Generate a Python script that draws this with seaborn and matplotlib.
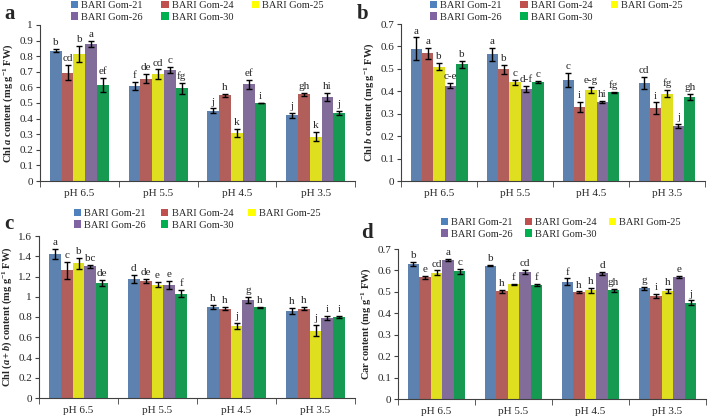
import numpy as np
import pandas as pd
import matplotlib
matplotlib.use("Agg")
import matplotlib.pyplot as plt
import seaborn as sns
from matplotlib.patches import Patch
from matplotlib.ticker import FixedLocator

# categories and varieties
ph_levels = ["pH 6.5", "pH 5.5", "pH 4.5", "pH 3.5"]
varieties = ["BARI Gom-21", "BARI Gom-24", "BARI Gom-25", "BARI Gom-26", "BARI Gom-30"]
colors = ["#4F81BD", "#C0504D", "#FFFF00", "#8064A2", "#00B050"]

# panel a: Chl a (rows = varieties, cols = pH levels)
chla_mean = [[0.835, 0.610, 0.450, 0.420],
             [0.695, 0.655, 0.550, 0.555],
             [0.815, 0.685, 0.310, 0.285],
             [0.880, 0.710, 0.620, 0.540],
             [0.615, 0.595, 0.500, 0.435]]
chla_err = [[0.010, 0.025, 0.015, 0.015],
            [0.050, 0.030, 0.010, 0.012],
            [0.050, 0.030, 0.025, 0.030],
            [0.020, 0.020, 0.030, 0.025],
            [0.045, 0.035, 0.003, 0.015]]
chla_let = [["b", "f", "j", "j"],
            ["cd", "de", "h", "gh"],
            ["b", "cd", "k", "k"],
            ["a", "c", "ef", "hi"],
            ["ef", "fg", "i", "j"]]

# panel b: Chl b
chlb_mean = [[0.590, 0.565, 0.450, 0.437],
             [0.570, 0.498, 0.330, 0.325],
             [0.510, 0.440, 0.405, 0.390],
             [0.425, 0.410, 0.353, 0.245],
             [0.520, 0.440, 0.395, 0.375]]
chlb_err = [[0.050, 0.030, 0.030, 0.025],
            [0.025, 0.020, 0.022, 0.025],
            [0.017, 0.012, 0.013, 0.015],
            [0.012, 0.013, 0.005, 0.008],
            [0.015, 0.005, 0.002, 0.013]]
chlb_let = [["a", "a", "c", "cd"],
            ["a", "b", "i", "i"],
            ["b", "c", "e-g", "fg"],
            ["c-e", "d-f", "hi", "j"],
            ["b", "c", "fg", "gh"]]

# panel c: Chl (a+b)
chlab_mean = [[1.420, 1.175, 0.895, 0.855],
              [1.260, 1.155, 0.880, 0.880],
              [1.330, 1.120, 0.715, 0.665],
              [1.300, 1.115, 0.970, 0.790],
              [1.135, 1.030, 0.895, 0.800]]
chlab_err = [[0.050, 0.040, 0.020, 0.030],
             [0.080, 0.020, 0.015, 0.015],
             [0.055, 0.025, 0.030, 0.055],
             [0.015, 0.040, 0.030, 0.020],
             [0.030, 0.035, 0.005, 0.010]]
chlab_let = [["a", "d", "h", "h"],
             ["c", "de", "h", "h"],
             ["b", "e", "j", "j"],
             ["bc", "e", "g", "i"],
             ["de", "f", "h", "i"]]

# panel d: carotenoids
car_mean = [[0.630, 0.622, 0.548, 0.518],
            [0.568, 0.503, 0.498, 0.482],
            [0.590, 0.535, 0.508, 0.505],
            [0.647, 0.593, 0.587, 0.568],
            [0.597, 0.533, 0.507, 0.450]]
car_err = [[0.010, 0.003, 0.015, 0.007],
           [0.007, 0.007, 0.004, 0.010],
           [0.010, 0.003, 0.012, 0.010],
           [0.005, 0.010, 0.008, 0.005],
           [0.012, 0.005, 0.007, 0.010]]
car_let = [["b", "b", "f", "g"],
           ["e", "h", "h", "i"],
           ["cd", "f", "h", "h"],
           ["a", "cd", "d", "e"],
           ["c", "f", "gh", "j"]]

sns.set_style("white")
plt.rcParams["font.family"] = ["Liberation Serif", "DejaVu Serif"]
plt.rcParams["mathtext.fontset"] = "custom"
plt.rcParams["mathtext.rm"] = "Liberation Serif:bold"
plt.rcParams["mathtext.it"] = "Liberation Serif:italic:bold"
plt.rcParams["mathtext.bf"] = "Liberation Serif:bold"

fig = plt.figure(figsize=(7.09, 4.19), dpi=100)
W, H = 709.0, 419.0


def px_axes(l, t, r, b):
    return fig.add_axes([l / W, 1 - b / H, (r - l) / W, (b - t) / H])


panels = [
    dict(mean=chla_mean, err=chla_err, let=chla_let, box=(40, 25, 355, 181),
         ymax=1.0, step=0.1, label="Chl $\\mathit{a}$ content (mg g$^{-1}$ FW)",
         tag="a", tagpos=(4, 14), leg=(71, 1), cs=1.75),
    dict(mean=chlb_mean, err=chlb_err, let=chlb_let, box=(401, 24, 705, 181),
         ymax=0.7, step=0.1, label="Chl $\\mathit{b}$ content (mg g$^{-1}$ FW)",
         tag="b", tagpos=(357, 14), leg=(430, 1), cs=1.75),
    dict(mean=chlab_mean, err=chlab_err, let=chlab_let, box=(39, 236, 355, 398),
         ymax=1.6, step=0.2, label="Chl ($\\mathit{a+b}$) content (mg g$^{-1}$ FW)",
         tag="c", tagpos=(4, 224), leg=(74, 209), cs=1.45),
    dict(mean=car_mean, err=car_err, let=car_let, box=(398, 249, 706, 399),
         ymax=0.7, step=0.1, label="Car content (mg g$^{-1}$ FW)",
         tag="d", tagpos=(361, 233), leg=(441, 218), cs=1.15),
]

for p in panels:
    ax = px_axes(*p["box"])
    rows = []
    for vi, v in enumerate(varieties):
        for ci, c in enumerate(ph_levels):
            rows.append(dict(pH=c, variety=v, value=p["mean"][vi][ci]))
    df = pd.DataFrame(rows)
    sns.barplot(data=df, x="pH", y="value", hue="variety", order=ph_levels,
                hue_order=varieties, palette=colors, width=0.75, gap=0,
                errorbar=None, legend=False, linewidth=0, ax=ax)

    bar_containers = list(ax.containers)
    for vi, cont in enumerate(bar_containers):
        for ci, bar in enumerate(cont):
            xc = bar.get_x() + bar.get_width() / 2
            y = bar.get_height()
            e = p["err"][vi][ci]
            ax.errorbar(xc, y, yerr=e, color="black", capsize=2,
                        elinewidth=1, capthick=1, lw=0)
            ax.text(xc, y + e + p["ymax"] * 0.012, p["let"][vi][ci],
                    ha="center", va="bottom", fontsize=8)

    ax.set_xlim(-0.5, 3.5)
    ax.set_ylim(0, p["ymax"])
    ticks = np.round(np.arange(0, p["ymax"] + 1e-9, p["step"]), 2)
    ax.set_yticks(ticks)
    ax.set_yticklabels(["{:g}".format(t) for t in ticks], fontsize=8)
    ax.set_xticks(range(4))
    ax.set_xticklabels(ph_levels, fontsize=8)
    ax.xaxis.set_minor_locator(FixedLocator([-0.5, 0.5, 1.5, 2.5, 3.5]))
    ax.tick_params(axis="x", which="major", length=0, pad=6)
    ax.tick_params(axis="x", which="minor", length=4, direction="out",
                   color="#404040", bottom=True)
    ax.tick_params(axis="y", length=3, direction="out", color="#404040",
                   left=True, pad=2)
    ax.set_xlabel("")
    ax.set_ylabel(p["label"], fontsize=7.5, fontweight="bold", labelpad=3)
    for s in ["top", "right"]:
        ax.spines[s].set_visible(False)
    for s in ["left", "bottom"]:
        ax.spines[s].set_color("#404040")
        ax.spines[s].set_linewidth(0.8)

    fig.text(p["tagpos"][0] / W, 1 - p["tagpos"][1] / H, p["tag"],
             fontsize=15, fontweight="bold", ha="left", va="center")

    handles = [Patch(facecolor=c, edgecolor="none") for c in colors]
    order = [0, 3, 1, 4, 2]
    fig.legend([handles[i] for i in order], [varieties[i] for i in order],
               ncol=3, loc="upper left",
               bbox_to_anchor=(p["leg"][0] / W, 1 - p["leg"][1] / H),
               frameon=False, fontsize=7.5, handlelength=0.7, handleheight=0.7,
               handletextpad=0.3, columnspacing=p["cs"], labelspacing=0.2,
               borderpad=0, borderaxespad=0)

fig.savefig("out.png", dpi=100)
